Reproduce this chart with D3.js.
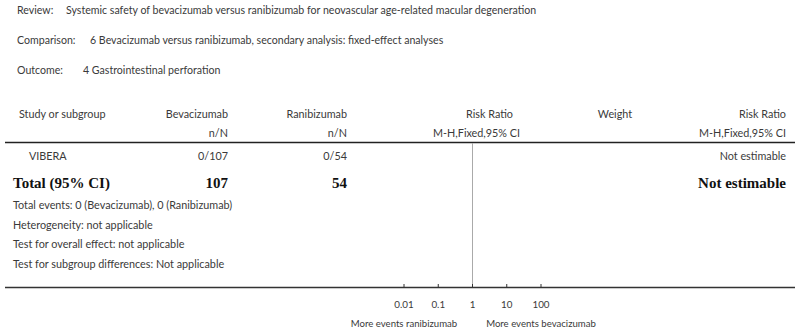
<!DOCTYPE html>
<html><head><meta charset="utf-8">
<script src="https://cdn.jsdelivr.net/npm/d3@7"></script>
<style>body{margin:0;background:#fff}svg{display:block}</style>
</head><body><svg id="c" width="800" height="333"></svg>
<script>
const headerLabels = ["Review:", "Comparison:", "Outcome:"];
const headerValues = ["Systemic safety of bevacizumab versus ranibizumab for neovascular age-related macular degeneration",
  "6 Bevacizumab versus ranibizumab, secondary analysis: fixed-effect analyses",
  "4 Gastrointestinal perforation"];
const studies = ["VIBERA"];
const bevEvents = [0], bevTotal = [107];
const ranEvents = [0], ranTotal = [54];
const studyRR = ["Not estimable"];
const totalRow = {label: "Total (95% CI)", bev: 107, ran: 54, rr: "Not estimable"};
const footLines = ["Total events: 0 (Bevacizumab), 0 (Ranibizumab)", "Heterogeneity: not applicable",
  "Test for overall effect: not applicable", "Test for subgroup differences: Not applicable"];
const tickValues = [0.01, 0.1, 1, 10, 100];
const tickLabels = ["0.01", "0.1", "1", "10", "100"];
const favourLabels = ["More events ranibizumab", "More events bevacizumab"];

const svg = d3.select("#c");
const col = "#3a3a3a";
const sans = "Lato, 'Open Sans', sans-serif";
const serif = "'Liberation Serif', 'DejaVu Serif', serif";

const x = d3.scaleLog().domain([0.01, 100]).range([404, 541]);

function txt(s, xx, yy, anchor, opts = {}) {
  return svg.append("text").attr("x", xx).attr("y", yy).attr("text-anchor", anchor || "start")
    .attr("font-family", opts.family || sans).attr("font-size", opts.size || 10.8)
    .attr("font-weight", opts.weight || "normal").attr("fill", opts.fill || col).text(s);
}

// header
const hy = [14, 44, 74];
const hx = [66, 90, 83];
headerLabels.forEach((l, i) => { txt(l, 17, hy[i], "start", {size: 10.6}); txt(headerValues[i], hx[i], hy[i], "start", {size: 10.6}); });

// column headers
txt("Study or subgroup", 19, 118);
txt("Bevacizumab", 228, 118, "end");
txt("n/N", 228, 137, "end");
txt("Ranibizumab", 347, 118, "end");
txt("n/N", 347, 137, "end");
txt("Risk Ratio", 513, 118, "end");
txt("M-H,Fixed,95% CI", 520, 137, "end");
txt("Weight", 615, 118, "middle");
txt("Risk Ratio", 786, 118, "end");
txt("M-H,Fixed,95% CI", 786, 137, "end");

svg.append("line").attr("x1", 5).attr("x2", 795).attr("y1", 142.5).attr("y2", 142.5).attr("stroke", "#222").attr("stroke-width", 1.5);

// study rows
studies.forEach((s, i) => {
  const yy = 160 + i * 20;
  txt(s, 29, yy);
  txt(bevEvents[i] + "/" + bevTotal[i], 228, yy, "end");
  txt(ranEvents[i] + "/" + ranTotal[i], 347, yy, "end");
  txt(studyRR[i], 786, yy, "end");
});

// total
const ty = 188;
const bold = {family: serif, size: 15, weight: "bold", fill: "#111"};
txt(totalRow.label, 13, ty, "start", bold);
txt(String(totalRow.bev), 228, ty, "end", bold);
txt(String(totalRow.ran), 347, ty, "end", bold);
txt(totalRow.rr, 786, ty, "end", bold);

footLines.forEach((l, i) => txt(l, 13, 209 + i * 19.7, "start", {size: 10.8}));

// null line
svg.append("line").attr("x1", x(1)).attr("x2", x(1)).attr("y1", 143).attr("y2", 287).attr("stroke", "#aaa").attr("stroke-width", 1);

// axis line
svg.append("line").attr("x1", 5).attr("x2", 795).attr("y1", 287.5).attr("y2", 287.5).attr("stroke", "#333").attr("stroke-width", 1.5);

const ax = svg.append("g");
tickValues.forEach((v, i) => {
  ax.append("line").attr("x1", x(v)).attr("x2", x(v)).attr("y1", 284).attr("y2", 287).attr("stroke", "#333");
  txt(tickLabels[i], x(v), 308, "middle", {size: 9.8});
});
txt(favourLabels[0], x(0.01), 327, "middle", {size: 9.6});
txt(favourLabels[1], x(100), 327, "middle", {size: 9.6});
</script></body></html>
